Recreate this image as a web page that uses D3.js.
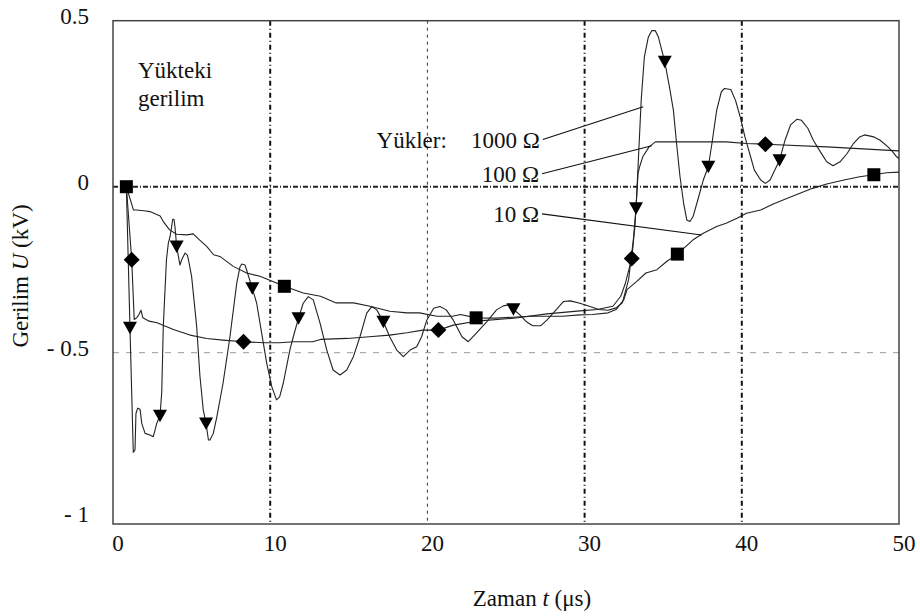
<!DOCTYPE html>
<html><head><meta charset="utf-8">
<script src="https://cdn.jsdelivr.net/npm/d3@7"></script>
<style>body{margin:0;background:#fff}svg{display:block}</style>
</head><body><svg id="c" width="920" height="616"></svg>
<script>
// ---- data ----
const xTicks = [0, 10, 20, 30, 40, 50];
const yTicks = [0.5, 0, -0.5, -1];
const yTickLabels = ["0.5", "0", "- 0.5", "- 1"];
const loadNames = ["1000 Ω", "100 Ω", "10 Ω"];

const series1000 = [[0.85,0],[1.08,-0.425],[1.29,-0.80],[1.4,-0.793],[1.46,-0.683],[1.57,-0.667],[1.72,-0.67],[1.83,-0.713],[2.04,-0.743],[2.35,-0.748],[2.56,-0.753],[2.67,-0.734],[2.78,-0.713],[2.99,-0.69],[3.1,-0.62],[3.2,-0.42],[3.4,-0.22],[3.52,-0.17],[3.63,-0.15],[3.73,-0.12],[3.8,-0.098],[3.88,-0.098],[3.94,-0.12],[4.05,-0.18],[4.26,-0.236],[4.37,-0.22],[4.58,-0.2],[4.73,-0.206],[4.8,-0.22],[5.0,-0.27],[5.32,-0.42],[5.53,-0.57],[5.74,-0.672],[5.92,-0.713],[6.07,-0.763],[6.17,-0.763],[6.38,-0.743],[6.6,-0.695],[7.0,-0.592],[7.44,-0.452],[7.87,-0.291],[8.08,-0.241],[8.19,-0.233],[8.4,-0.236],[8.5,-0.251],[8.86,-0.306],[9.14,-0.351],[9.35,-0.411],[9.78,-0.532],[10.1,-0.602],[10.4,-0.642],[10.6,-0.633],[10.83,-0.592],[11.05,-0.54],[11.26,-0.49],[11.47,-0.452],[11.8,-0.396],[12.1,-0.351],[12.42,-0.331],[12.74,-0.341],[13.17,-0.411],[13.6,-0.492],[14.0,-0.552],[14.44,-0.567],[14.87,-0.552],[15.29,-0.512],[15.71,-0.452],[16.14,-0.381],[16.46,-0.361],[16.78,-0.371],[17.2,-0.407],[17.6,-0.452],[18.05,-0.492],[18.47,-0.512],[18.9,-0.492],[19.32,-0.482],[19.63,-0.452],[19.96,-0.402],[20.4,-0.366],[20.8,-0.361],[21.2,-0.371],[21.65,-0.402],[22.2,-0.452],[22.6,-0.467],[23.1,-0.442],[23.77,-0.407],[24.4,-0.371],[24.83,-0.359],[25.15,-0.356],[25.47,-0.369],[25.9,-0.387],[26.3,-0.407],[26.7,-0.419],[27.2,-0.419],[27.6,-0.402],[28.0,-0.381],[28.65,-0.346],[29.1,-0.344],[29.7,-0.351],[30.3,-0.36],[30.9,-0.37],[31.5,-0.372],[32.0,-0.365],[32.4,-0.35],[32.8,-0.28],[33.1,-0.16],[33.27,-0.065],[33.4,0.06],[33.6,0.26],[33.8,0.39],[34.05,0.45],[34.27,0.47],[34.5,0.47],[34.7,0.45],[35.1,0.376],[35.4,0.30],[35.65,0.23],[35.85,0.13],[36.07,0.03],[36.3,-0.05],[36.5,-0.10],[36.7,-0.105],[36.9,-0.09],[37.2,-0.04],[37.55,0.02],[37.87,0.06],[38.1,0.13],[38.4,0.23],[38.7,0.286],[38.9,0.296],[39.3,0.293],[39.6,0.26],[39.9,0.21],[40.2,0.15],[40.5,0.10],[40.8,0.05],[41.2,0.02],[41.5,0.01],[41.8,0.02],[42.1,0.05],[42.4,0.08],[42.75,0.14],[43.1,0.186],[43.5,0.203],[43.8,0.2],[44.2,0.176],[44.55,0.14],[45.0,0.105],[45.4,0.075],[45.8,0.063],[46.25,0.075],[46.7,0.10],[47.1,0.13],[47.5,0.15],[47.8,0.156],[48.4,0.15],[48.8,0.14],[49.3,0.12],[49.6,0.105],[49.85,0.09],[50,0.085]];
const markers1000 = [[1.08,-0.425],[2.99,-0.69],[4.05,-0.18],[5.92,-0.713],[8.86,-0.306],[11.8,-0.396],[17.2,-0.407],[25.47,-0.369],[33.27,-0.065],[35.1,0.376],[37.87,0.06],[42.4,0.08]];

const series100 = [[0.85,0],[1.19,-0.22],[1.35,-0.40],[1.5,-0.395],[1.65,-0.385],[1.78,-0.372],[1.9,-0.395],[2.3,-0.405],[2.8,-0.41],[3.84,-0.43],[4.9,-0.447],[5.96,-0.457],[7.0,-0.462],[8.3,-0.467],[9.6,-0.47],[10.6,-0.47],[11.5,-0.467],[12.7,-0.467],[13.2,-0.46],[14.9,-0.457],[16.3,-0.452],[17.6,-0.447],[18.7,-0.44],[19.7,-0.432],[20.7,-0.432],[21.65,-0.417],[23.3,-0.404],[25.5,-0.396],[27.6,-0.383],[29.7,-0.374],[30.8,-0.37],[31.8,-0.36],[32.3,-0.33],[32.6,-0.29],[33.0,-0.216],[33.2,-0.12],[33.4,0.04],[33.5,0.06],[33.7,0.09],[34.1,0.12],[34.5,0.135],[36.0,0.135],[39.0,0.135],[40.3,0.13],[41.5,0.128],[45.4,0.12],[50,0.108]];
const markers100 = [[1.19,-0.22],[8.3,-0.467],[20.7,-0.432],[33.0,-0.216],[41.5,0.128]];

const series10 = [[0.85,0],[1.3,-0.07],[1.5,-0.07],[2.1,-0.073],[2.35,-0.075],[3.0,-0.088],[3.2,-0.105],[3.6,-0.13],[4.05,-0.143],[4.7,-0.145],[5.1,-0.142],[5.5,-0.16],[5.96,-0.18],[6.4,-0.205],[6.8,-0.21],[7.65,-0.24],[8.5,-0.26],[9.35,-0.27],[10.4,-0.29],[10.9,-0.30],[12.1,-0.32],[13.2,-0.33],[14.2,-0.35],[15.3,-0.35],[16.35,-0.36],[17.6,-0.375],[18.7,-0.38],[19.5,-0.38],[20.6,-0.39],[21.6,-0.39],[22.1,-0.385],[23.1,-0.395],[24.4,-0.396],[26.5,-0.39],[28.6,-0.39],[29.7,-0.386],[30.5,-0.385],[31.5,-0.38],[32.0,-0.37],[32.5,-0.34],[32.7,-0.31],[33.3,-0.286],[33.9,-0.26],[34.6,-0.25],[35.2,-0.226],[35.9,-0.203],[36.9,-0.16],[37.55,-0.14],[38.4,-0.12],[39.0,-0.11],[39.7,-0.095],[40.3,-0.08],[41.2,-0.07],[42.0,-0.052],[42.9,-0.035],[43.7,-0.02],[44.5,-0.005],[45.4,0.008],[46.5,0.02],[47.5,0.03],[48.4,0.036],[49.2,0.042],[50,0.044]];
const markers10 = [[0.85,0],[10.9,-0.30],[23.1,-0.395],[35.9,-0.203],[48.4,0.036]];

// annotation anchors (data coordinates): label end point and leader tip
const labelAnchors = [[27.15,0.118],[27.1,0.015],[27.1,-0.106]];
const leaderTips = [[33.73,0.241],[34.27,0.1235],[37.45,-0.1455]];

// ---- drawing ----
const FONT = "Liberation Serif";
const svg = d3.select("#c");
const L = 113, R = 899, T = 20.7, B = 524;
const x = d3.scaleLinear().domain([0, 50]).range([L, R]);
const y = d3.scaleLinear().domain([-1, 0.5]).range([518.7, T]);
const FS = 23;
const txt = (sel) => sel.attr("font-family", FONT).attr("font-size", FS).attr("fill", "#111");

// gridlines
const vg = [[10,"dark"],[20,"light"],[30,"dark"],[40,"dark"]];
vg.forEach(([v, s]) => {
  svg.append("line").attr("x1", x(v)).attr("x2", x(v)).attr("y1", T).attr("y2", B)
    .attr("stroke", s === "dark" ? "#111" : "#333")
    .attr("stroke-width", s === "dark" ? 2 : 1)
    .attr("stroke-dasharray", s === "dark" ? "5,3,1,3" : "3,4");
});
svg.append("line").attr("x1", L).attr("x2", R).attr("y1", y(-0.5)).attr("y2", y(-0.5))
  .attr("stroke", "#999").attr("stroke-width", 1).attr("stroke-dasharray", "6,7");
svg.append("line").attr("x1", L).attr("x2", R).attr("y1", y(0)).attr("y2", y(0))
  .attr("stroke", "#222").attr("stroke-width", 2).attr("stroke-dasharray", "5,2,1,2");

// frame
svg.append("rect").attr("x", L).attr("y", T).attr("width", R - L).attr("height", B - T)
  .attr("fill", "none").attr("stroke", "#444").attr("stroke-width", 1.5);

// series
const line = d3.line().x(d => x(d[0])).y(d => y(d[1]));
[series10, series100, series1000].forEach(s => {
  svg.append("path").datum(s).attr("d", line).attr("fill", "none")
    .attr("stroke", "#222").attr("stroke-width", 1.1).attr("stroke-linejoin", "round");
});

// markers
svg.selectAll(".sq").data(markers10).join("rect").attr("class","sq")
  .attr("x", d => x(d[0]) - 6.5).attr("y", d => y(d[1]) - 6.5).attr("width", 13).attr("height", 13).attr("fill", "#000");
svg.selectAll(".dm").data(markers100).join("path").attr("class","dm")
  .attr("d", d => `M${x(d[0])},${y(d[1]) - 8}L${x(d[0]) + 8},${y(d[1])}L${x(d[0])},${y(d[1]) + 8}L${x(d[0]) - 8},${y(d[1])}Z`)
  .attr("fill", "#000");
svg.selectAll(".tr").data(markers1000).join("path").attr("class","tr")
  .attr("d", d => `M${x(d[0]) - 7},${y(d[1]) - 6}L${x(d[0]) + 7},${y(d[1]) - 6}L${x(d[0])},${y(d[1]) + 6.5}Z`)
  .attr("fill", "#000");

// tick labels
svg.selectAll(".xt").data(xTicks).join("text").attr("class","xt")
  .attr("x", d => x(d) + 5).attr("y", 551).attr("text-anchor", "middle").call(txt).text(d => d);
svg.selectAll(".yt").data(yTicks).join("text").attr("class","yt")
  .attr("x", 89).attr("y", d => y(d) + 3).attr("text-anchor", "end").call(txt)
  .text((d, i) => yTickLabels[i]);

// axis titles
const xt = svg.append("text").attr("x", 532).attr("y", 606).attr("text-anchor", "middle").call(txt);
xt.append("tspan").text("Zaman ");
xt.append("tspan").attr("font-style", "italic").text("t");
xt.append("tspan").text(" (μs)");
const yt = svg.append("text").attr("transform", "translate(28,276) rotate(-90)").attr("text-anchor", "middle").call(txt);
yt.append("tspan").text("Gerilim ");
yt.append("tspan").attr("font-style", "italic").text("U");
yt.append("tspan").text(" (kV)");

// inner title
svg.append("text").attr("x", 138).attr("y", 78).call(txt).text("Yükteki");
svg.append("text").attr("x", 138).attr("y", 106).call(txt).text("gerilim");

// load labels and leaders
svg.append("text").attr("x", x(labelAnchors[0][0]) - 93).attr("y", y(labelAnchors[0][1])).attr("text-anchor", "end")
  .call(txt).text("Yükler:");
loadNames.forEach((n, i) => {
  const [lt, lu] = labelAnchors[i];
  svg.append("text").attr("x", x(lt)).attr("y", y(lu)).attr("text-anchor", "end").call(txt).text(n);
  svg.append("line").attr("x1", x(lt) + 3).attr("y1", y(lu) - 8)
    .attr("x2", x(leaderTips[i][0])).attr("y2", y(leaderTips[i][1]))
    .attr("stroke", "#111").attr("stroke-width", 1.1);
});
</script></body></html>
